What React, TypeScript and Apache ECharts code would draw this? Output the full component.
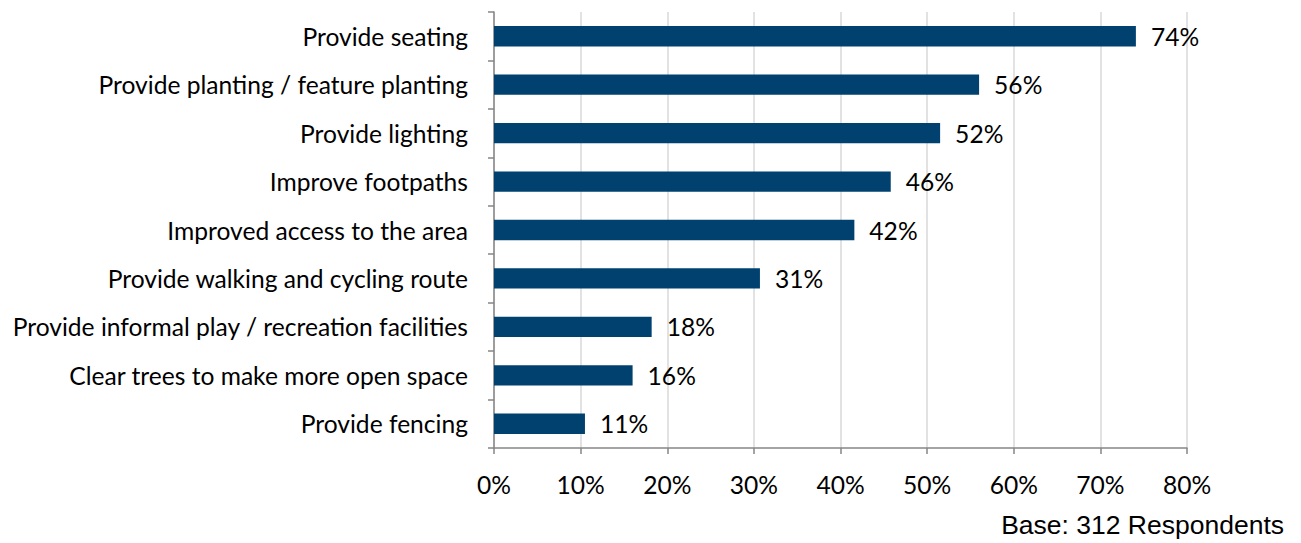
import React, { useEffect, useRef } from "react";
import * as echarts from "echarts";

const categories = [
  "Provide seating",
  "Provide planting / feature planting",
  "Provide lighting",
  "Improve footpaths",
  "Improved access to the area",
  "Provide walking and cycling route",
  "Provide informal play / recreation facilities",
  "Clear trees to make more open space",
  "Provide fencing",
];
const values = [74.1, 56.0, 51.5, 45.8, 41.6, 30.7, 18.2, 16.0, 10.5];
const xTicks = [0, 10, 20, 30, 40, 50, 60, 70, 80];
const baseNote = "Base: 312 Respondents";

const FONT = "Lato, 'Open Sans', sans-serif";
const FS = 24.6;

export default function App() {
  const ref = useRef<HTMLDivElement>(null);
  useEffect(() => {
    document.body.style.margin = "0";
    if (!ref.current) return;
    const chart = echarts.init(ref.current, null, { renderer: "svg" });
    chart.setOption({
      animation: false,
      backgroundColor: "#ffffff",
      grid: { left: 494, right: 114, top: 12, bottom: 95, containLabel: false },
      xAxis: {
        type: "value",
        min: xTicks[0],
        max: xTicks[xTicks.length - 1],
        interval: 10,
        axisLine: { show: true, lineStyle: { color: "#868686", width: 1.5 } },
        axisTick: { show: true, length: 6, lineStyle: { color: "#868686", width: 1.5 } },
        splitLine: { show: true, lineStyle: { color: "#D9D9D9", width: 1.5 } },
        axisLabel: {
          formatter: (v: number) => `${v}%`,
          color: "#000",
          fontFamily: FONT,
          fontSize: FS,
          margin: 24,
        },
      },
      yAxis: {
        type: "category",
        data: categories,
        inverse: true,
        axisLine: { show: true, lineStyle: { color: "#868686", width: 1.5 } },
        axisTick: { show: true, length: 6, lineStyle: { color: "#868686", width: 1.5 } },
        splitLine: { show: false },
        axisLabel: {
          color: "#000",
          fontFamily: FONT,
          fontSize: FS,
          margin: 26,
        },
      },
      series: [
        {
          type: "bar",
          data: values,
          barCategoryGap: "58%",
          itemStyle: { color: "#004170" },
          label: {
            show: true,
            position: "right",
            distance: 15,
            formatter: (p: any) => `${Math.round(p.value)}%`,
            color: "#000",
            fontFamily: FONT,
            fontSize: FS,
          },
        },
      ],
      graphic: [
        {
          type: "text",
          right: 17,
          bottom: 5,
          style: {
            text: baseNote,
            fill: "#000",
            font: "26.5px 'Liberation Sans', Arial, sans-serif",
          },
        },
      ],
    });
    return () => chart.dispose();
  }, []);
  return <div ref={ref} style={{ width: 1301, height: 543 }} />;
}
